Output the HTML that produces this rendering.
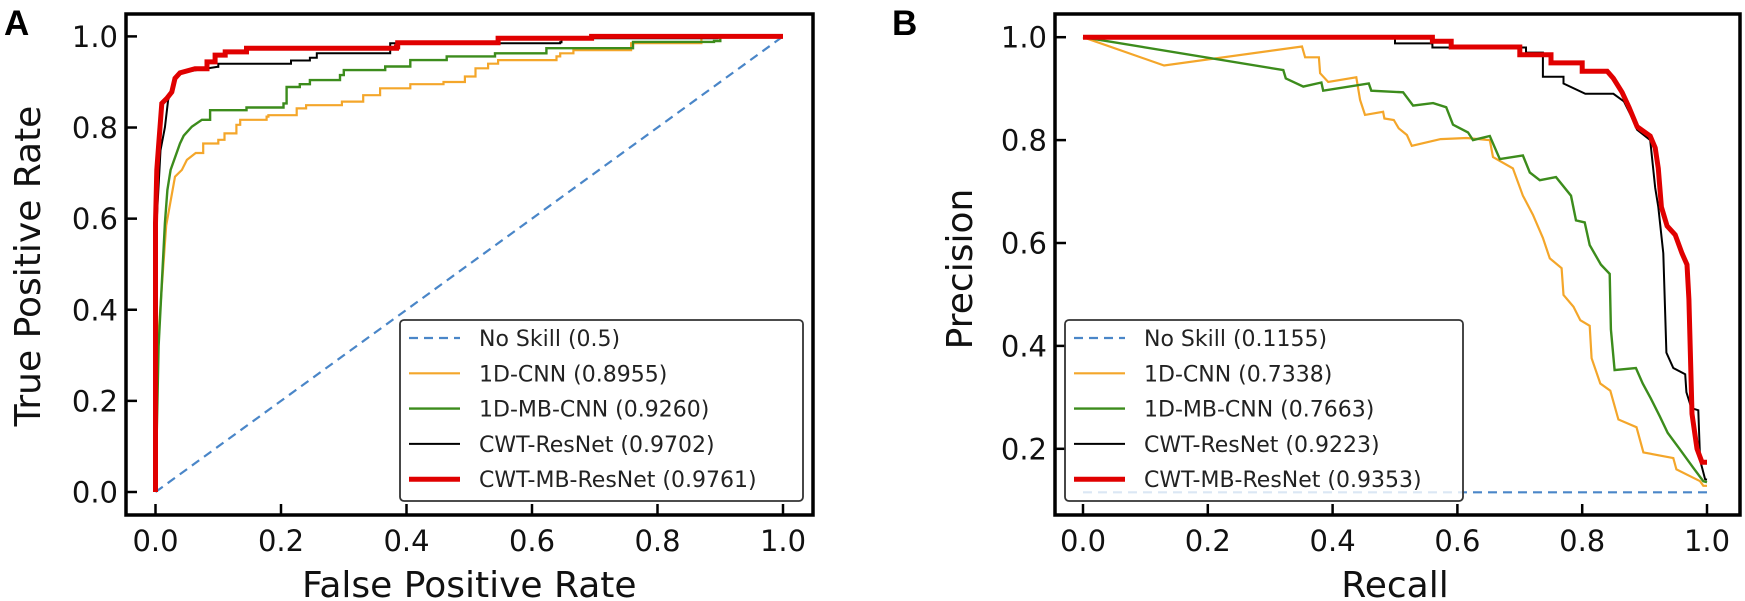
<!DOCTYPE html>
<html><head><meta charset="utf-8">
<style>
html,body{margin:0;padding:0;background:#fff;}
svg{display:block;font-family:"DejaVu Sans","Liberation Sans",sans-serif;}
</style></head>
<body>
<svg id="fig" width="1745" height="601" viewBox="0 0 1745 601">
  <text x="4" y="35" font-family="Liberation Sans, sans-serif" font-weight="bold" font-size="35">A</text>
  <text x="892" y="35" font-family="Liberation Sans, sans-serif" font-weight="bold" font-size="35">B</text>
</svg>
<script>
// ROC data
const rocNoSkillX = [0, 1];
const rocNoSkillY = [0, 1];
const roc1dcnnX = [0,0.004,0.01,0.017,0.031,0.042,0.05,0.064,0.076,0.1,0.11,0.129,0.135,0.177,0.18,0.222,0.225,0.24,0.297,0.331,0.358,0.406,0.459,0.493,0.51,0.53,0.546,0.639,0.645,0.666,0.756,0.758,0.868,0.87,1];
const roc1dcnnY = [0,0.33,0.45,0.585,0.692,0.707,0.729,0.744,0.765,0.773,0.787,0.806,0.817,0.824,0.827,0.827,0.842,0.849,0.857,0.871,0.886,0.895,0.9,0.912,0.93,0.94,0.948,0.956,0.963,0.97,0.97,0.985,0.985,1,1];
const rocMbcnnX = [0,0.005,0.015,0.019,0.024,0.039,0.045,0.058,0.074,0.087,0.145,0.204,0.209,0.23,0.246,0.294,0.30,0.366,0.406,0.464,0.541,0.623,0.761,0.89,0.9,1];
const rocMbcnnY = [0,0.32,0.59,0.663,0.707,0.765,0.782,0.802,0.817,0.838,0.844,0.853,0.889,0.895,0.904,0.915,0.926,0.934,0.948,0.956,0.963,0.974,0.988,0.99,1,1];
const rocResnetX = [0,0.002,0.008,0.015,0.02,0.031,0.04,0.06,0.098,0.1,0.214,0.216,0.246,0.257,0.372,0.374,0.645,0.647,0.894,0.896,1];
const rocResnetY = [0,0.6,0.75,0.8,0.86,0.905,0.92,0.925,0.933,0.94,0.94,0.947,0.953,0.963,0.963,0.985,0.987,0.996,0.996,1,1];
const rocMbresnetX = [0,0,0.002,0.005,0.01,0.018,0.026,0.031,0.039,0.063,0.082,0.095,0.111,0.145,0.384,0.386,0.544,0.546,0.681,0.695,1];
const rocMbresnetY = [0,0.59,0.707,0.76,0.853,0.864,0.878,0.908,0.92,0.929,0.944,0.959,0.966,0.974,0.977,0.986,0.986,0.996,0.996,1,1];
// PR data
const prNoSkillX = [0, 1];
const prNoSkillY = [0.1155, 0.1155];
const pr1dcnnX = [0,0.13,0.351,0.356,0.378,0.38,0.393,0.438,0.444,0.452,0.481,0.483,0.498,0.506,0.519,0.527,0.573,0.615,0.652,0.657,0.689,0.705,0.721,0.737,0.748,0.767,0.77,0.786,0.797,0.812,0.815,0.829,0.845,0.858,0.887,0.898,0.946,0.951,0.989,0.994,1];
const pr1dcnnY = [1,0.945,0.982,0.961,0.961,0.93,0.913,0.922,0.878,0.849,0.855,0.842,0.839,0.823,0.81,0.789,0.802,0.804,0.8,0.767,0.745,0.692,0.655,0.61,0.57,0.551,0.499,0.476,0.45,0.439,0.376,0.327,0.313,0.257,0.242,0.193,0.182,0.16,0.137,0.128,0.128];
const prMbcnnX = [0,0.321,0.325,0.353,0.382,0.385,0.458,0.462,0.513,0.529,0.561,0.582,0.593,0.617,0.625,0.652,0.668,0.705,0.716,0.732,0.758,0.782,0.79,0.804,0.812,0.83,0.844,0.846,0.852,0.886,0.897,0.91,0.924,0.937,0.956,0.978,0.994,1];
const prMbcnnY = [1,0.936,0.92,0.904,0.912,0.896,0.91,0.896,0.893,0.867,0.872,0.864,0.83,0.815,0.8,0.808,0.763,0.77,0.737,0.722,0.728,0.692,0.644,0.64,0.596,0.558,0.54,0.432,0.353,0.357,0.327,0.298,0.264,0.231,0.2,0.163,0.137,0.135];
const prResnetX = [0,0.5,0.5,0.56,0.56,0.71,0.71,0.737,0.737,0.77,0.77,0.805,0.85,0.867,0.878,0.888,0.909,0.917,0.922,0.93,0.935,0.946,0.965,0.967,0.975,0.986,0.989,0.997,1];
const prResnetY = [1,1,0.988,0.988,0.98,0.98,0.97,0.97,0.923,0.923,0.91,0.89,0.89,0.875,0.848,0.82,0.80,0.707,0.67,0.58,0.387,0.357,0.345,0.31,0.279,0.275,0.178,0.141,0.14];
const prMbresnetX = [0,0.56,0.56,0.59,0.59,0.70,0.70,0.75,0.75,0.80,0.80,0.84,0.85,0.864,0.875,0.888,0.909,0.917,0.922,0.927,0.936,0.949,0.96,0.968,0.971,0.976,0.984,0.992,1.0];
const prMbresnetY = [1,1,0.992,0.992,0.981,0.981,0.966,0.966,0.95,0.95,0.934,0.934,0.92,0.893,0.864,0.826,0.808,0.785,0.745,0.67,0.633,0.616,0.58,0.558,0.491,0.268,0.2,0.174,0.174];
const tickValues = [0, 0.2, 0.4, 0.6, 0.8, 1.0];
const tickLabels = ["0.0","0.2","0.4","0.6","0.8","1.0"];
const prYTickValues = [0.2, 0.4, 0.6, 0.8, 1.0];
const prYTickLabels = ["0.2","0.4","0.6","0.8","1.0"];
const rocLegend = ["No Skill (0.5)","1D-CNN (0.8955)","1D-MB-CNN (0.9260)","CWT-ResNet (0.9702)","CWT-MB-ResNet (0.9761)"];
const prLegend = ["No Skill (0.1155)","1D-CNN (0.7338)","1D-MB-CNN (0.7663)","CWT-ResNet (0.9223)","CWT-MB-ResNet (0.9353)"];

const NS = "http://www.w3.org/2000/svg";
const svg = document.getElementById('fig');
function mk(tag, attrs, parent){ const e=document.createElementNS(NS,tag); for(const k in attrs) e.setAttribute(k,attrs[k]); (parent||svg).appendChild(e); return e; }

const styles = [
  {stroke:"#4a86c8", w:2.2, dash:"9 6"},
  {stroke:"#f4a62a", w:2.2},
  {stroke:"#3c8c1c", w:2.4},
  {stroke:"#000000", w:2},
  {stroke:"#e00000", w:5}
];
const seriesNames = ["no-skill","1d-cnn","1d-mb-cnn","cwt-resnet","cwt-mb-resnet"];

function panel(cfg){
  const g = mk('g',{});
  
  
  const sx = v => cfg.x0 + (cfg.x1 - cfg.x0) * v;
  const sy = v => cfg.y0 - (cfg.y0 - cfg.y1) * v;
  cfg.series.forEach((s,i)=>{
    const st = styles[i];
    const arr = [];
    s[0].forEach((x,j)=>{
      if(cfg.step && i>0 && j>0 && s[0][j-1] > 0.06){
        arr.push(sx(x).toFixed(1)+","+sy(s[1][j-1]).toFixed(1));
      }
      arr.push(sx(x).toFixed(1)+","+sy(s[1][j]).toFixed(1));
    });
    const pl = mk('polyline',{points:arr.join(" "), fill:"none", stroke:st.stroke, "stroke-width":st.w, "stroke-linejoin":"miter"}, g);
    if(st.dash) pl.setAttribute('stroke-dasharray', st.dash);
    
    
  });
  tickValues.forEach((v,i)=>{
    const t = mk('line',{x1:sx(v),x2:sx(v),y1:cfg.bottom,y2:cfg.bottom-11,stroke:"#000","stroke-width":2.5},g);
    
    
    const l = mk('text',{x:sx(v),y:551,"font-size":29,"text-anchor":"middle",fill:"#111"},g);
    l.textContent = tickLabels[i];
    
    
  });
  cfg.yt.forEach((v,i)=>{
    const t = mk('line',{x1:cfg.left,x2:cfg.left+11,y1:sy(v),y2:sy(v),stroke:"#000","stroke-width":2.5},g);
    
    
    const l = mk('text',{x:cfg.left-8,y:sy(v)+10.5,"font-size":29,"text-anchor":"end",fill:"#111"},g);
    l.textContent = cfg.ytl[i];
    
    
  });
  const fr = mk('rect',{x:cfg.left,y:cfg.top,width:cfg.right-cfg.left,height:cfg.bottom-cfg.top,fill:"none",stroke:"#000","stroke-width":3.5},g);
  
  
  const xt = mk('text',{x:(cfg.x0+cfg.x1)/2,y:597,"font-size":36,"text-anchor":"middle",fill:"#111"},g);
  xt.textContent = cfg.xtitle;
  
  
  const yt = mk('text',{x:0,y:0,"font-size":36,"text-anchor":"middle",fill:"#111",transform:`translate(${cfg.ytx},${cfg.yty}) rotate(-90)`},g);
  yt.textContent = cfg.ytitle;
  
  
  const lg = mk('g',{},g);
  
  
  const lb = mk('rect',{x:cfg.lx,y:320,width:cfg.lw,height:181,rx:4,fill:"rgba(255,255,255,0.8)",stroke:"#333","stroke-width":1.8},lg);
  
  
  cfg.legend.forEach((txt,i)=>{
    const y = 338 + i*35.3;
    const st = styles[i];
    const ln = mk('line',{x1:cfg.lx+9,x2:cfg.lx+60,y1:y,y2:y,stroke:st.stroke,"stroke-width":st.w},lg);
    if(st.dash) ln.setAttribute('stroke-dasharray', st.dash);
    
    
    const t = mk('text',{x:cfg.lx+79,y:y+8,"font-size":22,fill:"#222"},lg);
    t.textContent = txt;
    
    
  });
}

panel({name:"roc-chart", step:true, x0:155.5, x1:783, y0:492, y1:36.4, left:126, right:813, top:14, bottom:515,
  series:[[rocNoSkillX,rocNoSkillY],[roc1dcnnX,roc1dcnnY],[rocMbcnnX,rocMbcnnY],[rocResnetX,rocResnetY],[rocMbresnetX,rocMbresnetY]],
  yt:tickValues, ytl:tickLabels, xtitle:"False Positive Rate", ytitle:"True Positive Rate", ytx:40, yty:266,
  lx:400, lw:403, legend:rocLegend});
panel({name:"pr-chart", step:false, x0:1083, x1:1707, y0:551.7, y1:37.2, left:1055, right:1740, top:14, bottom:515,
  series:[[prNoSkillX,prNoSkillY],[pr1dcnnX,pr1dcnnY],[prMbcnnX,prMbcnnY],[prResnetX,prResnetY],[prMbresnetX,prMbresnetY]],
  yt:prYTickValues, ytl:prYTickLabels, xtitle:"Recall", ytitle:"Precision", ytx:972, yty:269,
  lx:1065, lw:398, legend:prLegend});
</script>
</body></html>
